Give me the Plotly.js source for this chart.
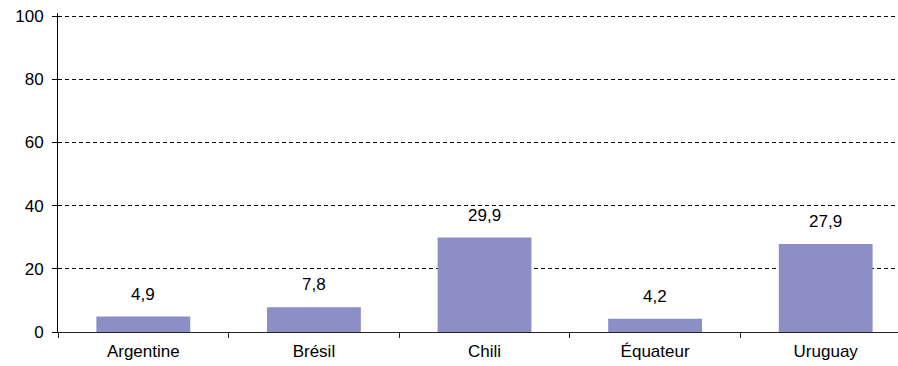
<!DOCTYPE html>
<html>
<head>
<meta charset="utf-8">
<script src="https://cdn.plot.ly/plotly-3.0.1.min.js"></script>
<style>html,body{margin:0;padding:0;background:#fff;overflow:hidden;}#chart{width:911px;height:366px;}</style>
</head>
<body>
<div id="chart"></div>
<script>
var categories = ["Argentine", "Brésil", "Chili", "Équateur", "Uruguay"];
var values = [4.9, 7.8, 29.9, 4.2, 27.9];
var valueLabels = ["4,9", "7,8", "29,9", "4,2", "27,9"];
var yTicks = [0, 20, 40, 60, 80, 100];

var FONT = "Liberation Sans, Arial, sans-serif";
var FS = 17;

var trace = {
  type: "bar",
  x: categories,
  y: values,
  marker: {color: "#8B8FC6", line: {width: 0}},
  hoverinfo: "none"
};

var annotations = categories.map(function(c, i){
  return {
    x: c, y: values[i], xref: "x", yref: "y",
    text: valueLabels[i], showarrow: false,
    xanchor: "center", yanchor: "bottom", yshift: 11,
    font: {family: FONT, size: FS, color: "#000"}
  };
});

var layout = {
  width: 911, height: 366,
  margin: {l: 58, r: 0, t: 13, b: 34, pad: 0},
  paper_bgcolor: "#fff", plot_bgcolor: "#fff",
  font: {family: FONT, size: FS, color: "#000"},
  bargap: 0.45,
  showlegend: false,
  annotations: annotations,
  xaxis: {
    type: "category",
    showline: true, linecolor: "#222", linewidth: 1,
    ticks: "outside", tickson: "boundaries", ticklen: 5, tickcolor: "#222",
    ticklabelstandoff: 4,
    showgrid: false, zeroline: false,
    tickfont: {family: FONT, size: FS, color: "#000"}
  },
  yaxis: {
    range: [0, 101], tickvals: yTicks, ticktext: yTicks.map(String),
    showline: true, linecolor: "#000", linewidth: 1,
    ticks: "outside", ticklen: 5, tickcolor: "#000",
    ticklabelstandoff: 5,
    showgrid: true, gridcolor: "#000", gridwidth: 1, griddash: "4px,3px",
    zeroline: false,
    tickfont: {family: FONT, size: FS, color: "#000"}
  }
};

Plotly.newPlot("chart", [trace], layout, {staticPlot: true, displayModeBar: false});
</script>
</body>
</html>
